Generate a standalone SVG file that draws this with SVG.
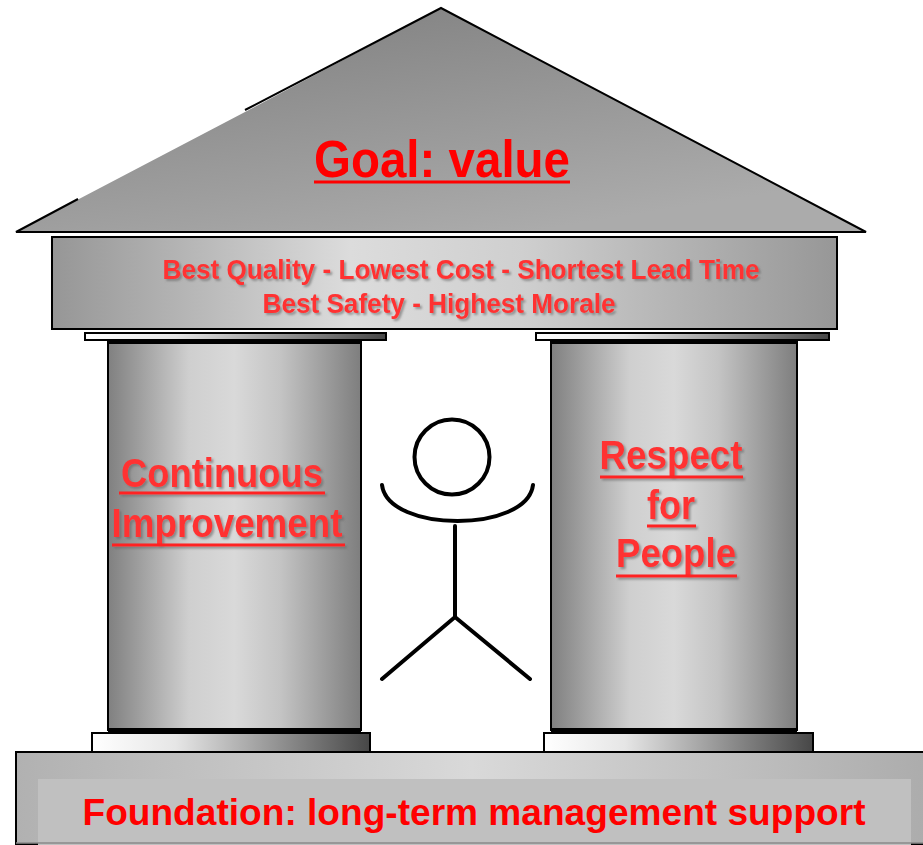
<svg xmlns="http://www.w3.org/2000/svg" width="923" height="845" viewBox="0 0 923 845">
  <defs>
    <linearGradient id="roofGrad" x1="0" y1="0" x2="0.6" y2="1">
      <stop offset="0" stop-color="#7c7c7c"/>
      <stop offset="1" stop-color="#ababab"/>
    </linearGradient>
    <linearGradient id="beamGrad" x1="0" y1="0" x2="1" y2="0">
      <stop offset="0" stop-color="#969696"/>
      <stop offset="0.38" stop-color="#dcdcdc"/>
      <stop offset="0.6" stop-color="#cfcfcf"/>
      <stop offset="1" stop-color="#979797"/>
    </linearGradient>
    <linearGradient id="columnGrad" x1="0" y1="0" x2="1" y2="0">
      <stop offset="0" stop-color="#808080"/>
      <stop offset="0.32" stop-color="#cfcfcf"/>
      <stop offset="0.5" stop-color="#d9d9d9"/>
      <stop offset="0.68" stop-color="#c4c4c4"/>
      <stop offset="1" stop-color="#7e7e7e"/>
    </linearGradient>
    <linearGradient id="slabGrad" x1="0" y1="0" x2="1" y2="0">
      <stop offset="0" stop-color="#ffffff"/>
      <stop offset="0.3" stop-color="#e6e6e6"/>
      <stop offset="1" stop-color="#474747"/>
    </linearGradient>
    <linearGradient id="baseGrad" x1="0" y1="0" x2="1" y2="0">
      <stop offset="0" stop-color="#b1b1b1"/>
      <stop offset="0.5" stop-color="#d9d9d9"/>
      <stop offset="1" stop-color="#acacac"/>
    </linearGradient>
    <!-- soft grey drop shadow behind embossed captions; user-space region so flat lines keep it too -->
    <filter id="shadow" filterUnits="userSpaceOnUse" x="0" y="0" width="923" height="845">
      <feDropShadow dx="2" dy="2" stdDeviation="0.8" flood-color="#666" flood-opacity="0.6"/>
    </filter>
  </defs>
  <style>
    .edge { stroke: #000; stroke-width: 2; }
    .slab { fill: url(#slabGrad); stroke: #000; stroke-width: 2; }
    .column { fill: url(#columnGrad); stroke: #000; stroke-width: 2; }
    .bold { font-family: "Liberation Sans", Arial, sans-serif; font-weight: bold; }
    .red { fill: #ff0000; }
    .soft { fill: #ff3333; filter: url(#shadow); }
    .rule { stroke: #ff2020; stroke-width: 3; filter: url(#shadow); }
    .figure { fill: none; stroke: #000; stroke-width: 4; stroke-linecap: round; }
  </style>

  <!-- roof -->
  <g id="roof">
    <polygon points="441,8 866,232 16,232 245,112" fill="url(#roofGrad)"/>
    <polyline points="245,110 441,8 866,232 16,232 78,199" fill="none" stroke="#000" stroke-width="2"/>
    <text class="bold red" x="442" y="177" font-size="52" text-anchor="middle" textLength="256" lengthAdjust="spacingAndGlyphs">Goal: value</text>
    <line x1="314" y1="182" x2="570" y2="182" stroke="#ff0000" stroke-width="3"/>
  </g>

  <!-- beam -->
  <g id="beam">
    <rect x="52" y="237" width="785" height="92" fill="url(#beamGrad)" class="edge"/>
    <text class="bold soft" x="461" y="279" font-size="28" text-anchor="middle" textLength="597" lengthAdjust="spacingAndGlyphs">Best Quality - Lowest Cost - Shortest Lead Time</text>
    <text class="bold soft" x="439" y="313" font-size="28" text-anchor="middle" textLength="353" lengthAdjust="spacingAndGlyphs">Best Safety - Highest Morale</text>
  </g>

  <!-- foundation -->
  <g id="foundation">
    <rect x="16" y="752" width="912" height="92" fill="url(#baseGrad)" stroke="#000" stroke-width="2"/>
    <rect x="38" y="779" width="873" height="66" fill="#c0c0c0"/>
    <line x1="16" y1="843" x2="923" y2="843" stroke="#8a8a8a" stroke-width="1.5"/>
    <text class="bold red" x="474" y="825" font-size="37" text-anchor="middle" textLength="783" lengthAdjust="spacingAndGlyphs">Foundation: long-term management support</text>
  </g>

  <!-- left pillar -->
  <g id="pillar-left">
    <rect x="85" y="333" width="301" height="7" class="slab"/>
    <rect x="108" y="341" width="253" height="389" class="column"/>
    <rect x="108" y="340" width="253" height="4" fill="#000"/>
    <rect x="108" y="728" width="253" height="4" fill="#000"/>
    <rect x="92" y="733" width="278" height="19" class="slab"/>
    <text class="bold soft" x="222" y="487" font-size="40" text-anchor="middle" textLength="202" lengthAdjust="spacingAndGlyphs">Continuous</text>
    <line x1="119" y1="493" x2="325" y2="493" class="rule"/>
    <text class="bold soft" x="227" y="537" font-size="40" text-anchor="middle" textLength="231" lengthAdjust="spacingAndGlyphs">Improvement</text>
    <line x1="112" y1="545" x2="345" y2="545" class="rule"/>
  </g>

  <!-- right pillar -->
  <g id="pillar-right">
    <rect x="536" y="333" width="293" height="7" class="slab"/>
    <rect x="551" y="341" width="246" height="389" class="column"/>
    <rect x="551" y="340" width="246" height="4" fill="#000"/>
    <rect x="551" y="728" width="246" height="4" fill="#000"/>
    <rect x="544" y="733" width="269" height="19" class="slab"/>
    <text class="bold soft" x="671" y="469" font-size="40" text-anchor="middle" textLength="143" lengthAdjust="spacingAndGlyphs">Respect</text>
    <line x1="600" y1="477" x2="743" y2="477" class="rule"/>
    <text class="bold soft" x="671" y="519" font-size="40" text-anchor="middle" textLength="48" lengthAdjust="spacingAndGlyphs">for</text>
    <line x1="647" y1="526" x2="696" y2="526" class="rule"/>
    <text class="bold soft" x="676" y="567" font-size="40" text-anchor="middle" textLength="120" lengthAdjust="spacingAndGlyphs">People</text>
    <line x1="616" y1="576" x2="737" y2="576" class="rule"/>
  </g>

  <!-- person between the pillars -->
  <g id="person">
    <circle cx="452" cy="457" r="37.5" class="figure"/>
    <path d="M382,485 C388,533 527,533 533,485" class="figure"/>
    <line x1="455" y1="526" x2="455" y2="617" class="figure"/>
    <polyline points="382,679 455,617 530,679" class="figure" stroke-linejoin="miter"/>
  </g>

  <!-- no connectors in this drawing -->
  <g id="connectors"/>
</svg>
